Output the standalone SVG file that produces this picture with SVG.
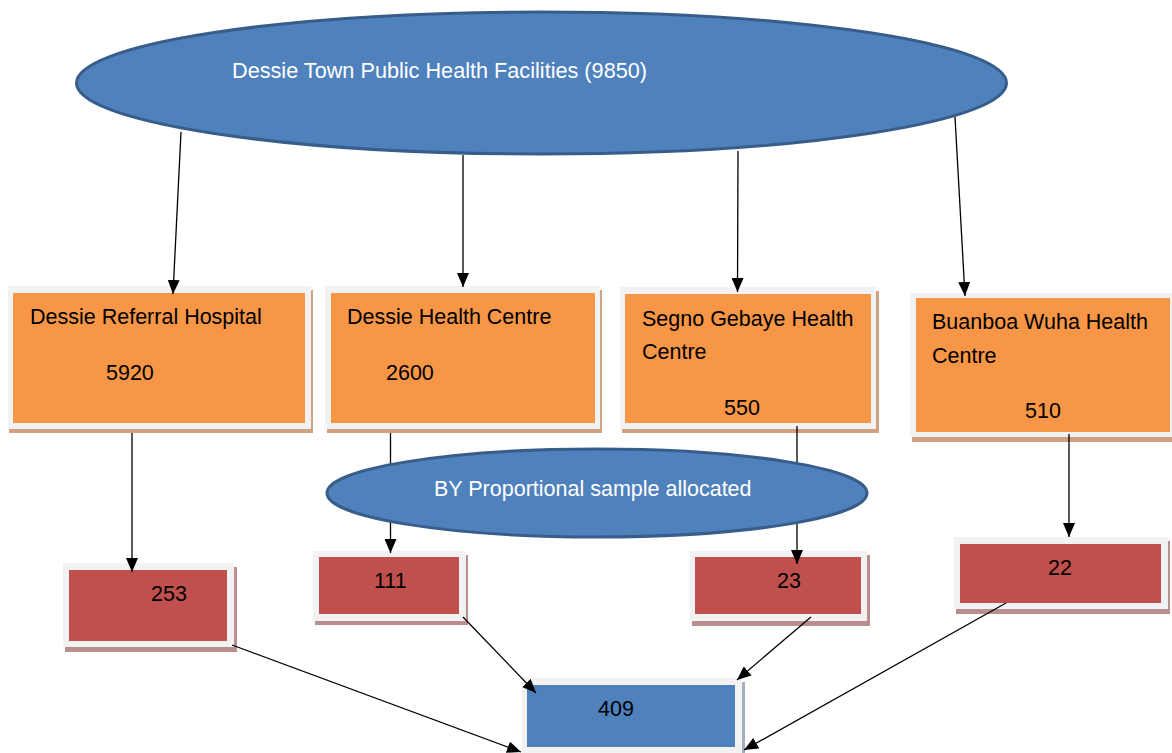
<svg xmlns="http://www.w3.org/2000/svg" width="1172" height="753" viewBox="0 0 1172 753">
<style>
  text { font-family: "Liberation Sans", Arial, sans-serif; font-size: 21.5px; }
  .dark { fill: #000; }
  .light { fill: #fff; }
  .frame { fill: #f2f2f2; }
  .orange { fill: #f79646; }
  .oshadow { fill: #d0a283; }
  .red { fill: #c0504d; }
  .rshadow { fill: #b88e8e; }
  .blue { fill: #4f81bd; }
  .bshadow { fill: #a3afc0; }
  .ell { fill: #4f81bd; stroke: #385d8a; stroke-width: 3; }
  .conn line { stroke: #000; stroke-width: 1.3; fill: none; }
  .arr { marker-end: url(#ah); }
</style>
<defs>
  <marker id="ah" markerUnits="userSpaceOnUse" markerWidth="14" markerHeight="12" refX="14" refY="6" orient="auto">
    <path d="M0,0 L14,6 L0,12 z" fill="#000"/>
  </marker>
</defs>
<rect width="1172" height="753" fill="#fff"/>

<g id="root">
  <ellipse class="ell" cx="541.5" cy="83" rx="465" ry="71"/>
  <text class="light" x="232" y="78" textLength="415" lengthAdjust="spacingAndGlyphs">Dessie Town Public Health Facilities (9850)</text>
</g>

<g id="drh">
  <rect class="oshadow" x="9" y="290" width="304" height="143"/>
  <rect class="frame" x="8" y="286" width="303" height="143"/>
  <rect class="orange" x="13" y="293" width="292" height="130"/>
  <text class="dark" x="30" y="324">Dessie Referral Hospital</text>
  <text class="dark" x="106" y="380">5920</text>
</g>

<g id="dhc">
  <rect class="oshadow" x="327" y="290" width="275" height="143"/>
  <rect class="frame" x="325" y="286" width="275" height="143"/>
  <rect class="orange" x="331" y="293" width="264" height="130"/>
  <text class="dark" x="347" y="324">Dessie Health Centre</text>
  <text class="dark" x="386" y="380">2600</text>
</g>

<g id="sghc">
  <rect class="oshadow" x="622" y="291" width="257" height="142"/>
  <rect class="frame" x="620" y="287" width="256" height="142"/>
  <rect class="orange" x="625" y="294" width="246" height="129"/>
  <text class="dark" x="642" y="326">Segno Gebaye Health</text>
  <text class="dark" x="642" y="359">Centre</text>
  <text class="dark" x="724" y="415">550</text>
</g>

<g id="bwhc">
  <rect class="oshadow" x="912" y="297" width="265" height="145"/>
  <rect class="frame" x="910" y="293" width="265" height="144"/>
  <rect class="orange" x="916" y="298" width="254" height="134"/>
  <text class="dark" x="932" y="329">Buanboa Wuha Health</text>
  <text class="dark" x="932" y="363">Centre</text>
  <text class="dark" x="1025" y="418">510</text>
</g>

<g id="r253">
  <rect class="rshadow" x="65" y="567" width="172" height="85"/>
  <rect class="frame" x="63" y="563" width="171" height="84"/>
  <rect class="red" x="69" y="570" width="158" height="71"/>
  <text class="dark" x="151" y="601">253</text>
</g>

<g id="r111">
  <rect class="rshadow" x="315" y="555" width="153" height="70"/>
  <rect class="frame" x="313" y="551" width="153" height="70"/>
  <rect class="red" x="319" y="557" width="140" height="57"/>
  <text class="dark" x="374" y="588">111</text>
</g>

<g id="r23">
  <rect class="rshadow" x="692" y="555" width="178" height="71"/>
  <rect class="frame" x="690" y="551" width="177" height="70"/>
  <rect class="red" x="695" y="557" width="166" height="57"/>
  <text class="dark" x="777" y="588">23</text>
</g>

<g id="r22">
  <rect class="rshadow" x="956" y="541" width="214" height="73"/>
  <rect class="frame" x="954" y="537" width="214" height="72"/>
  <rect class="red" x="960" y="544" width="201" height="59"/>
  <text class="dark" x="1048" y="575">22</text>
</g>

<g id="total">
  <rect class="bshadow" x="524" y="682" width="221" height="80"/>
  <rect class="frame" x="522" y="678" width="220" height="80"/>
  <rect class="blue" x="527" y="685" width="208" height="62"/>
  <text class="dark" x="598" y="716">409</text>
</g>

<g id="connectors" class="conn">
  <line class="arr" x1="181" y1="132" x2="173" y2="294"/>
  <line class="arr" x1="463" y1="155" x2="463" y2="287"/>
  <line class="arr" x1="738" y1="151" x2="737.5" y2="292"/>
  <line class="arr" x1="955" y1="117" x2="965" y2="296"/>
  <line class="arr" x1="132" y1="433" x2="132" y2="572"/>
  <line class="arr" x1="390.5" y1="433" x2="390.5" y2="553"/>
  <line class="arr" x1="797" y1="426" x2="797" y2="564"/>
  <line class="arr" x1="1069" y1="434" x2="1069" y2="537"/>
  <line class="arr" x1="232" y1="645" x2="521" y2="752"/>
  <line class="arr" x1="463" y1="617" x2="536" y2="693"/>
  <line class="arr" x1="811" y1="617" x2="737" y2="680"/>
  <line class="arr" x1="1006" y1="603" x2="744" y2="750"/>
</g>

<g id="method">
  <ellipse class="ell" cx="597" cy="493" rx="270" ry="44"/>
  <text class="light" x="434" y="496">BY Proportional sample allocated</text>
</g>
</svg>
